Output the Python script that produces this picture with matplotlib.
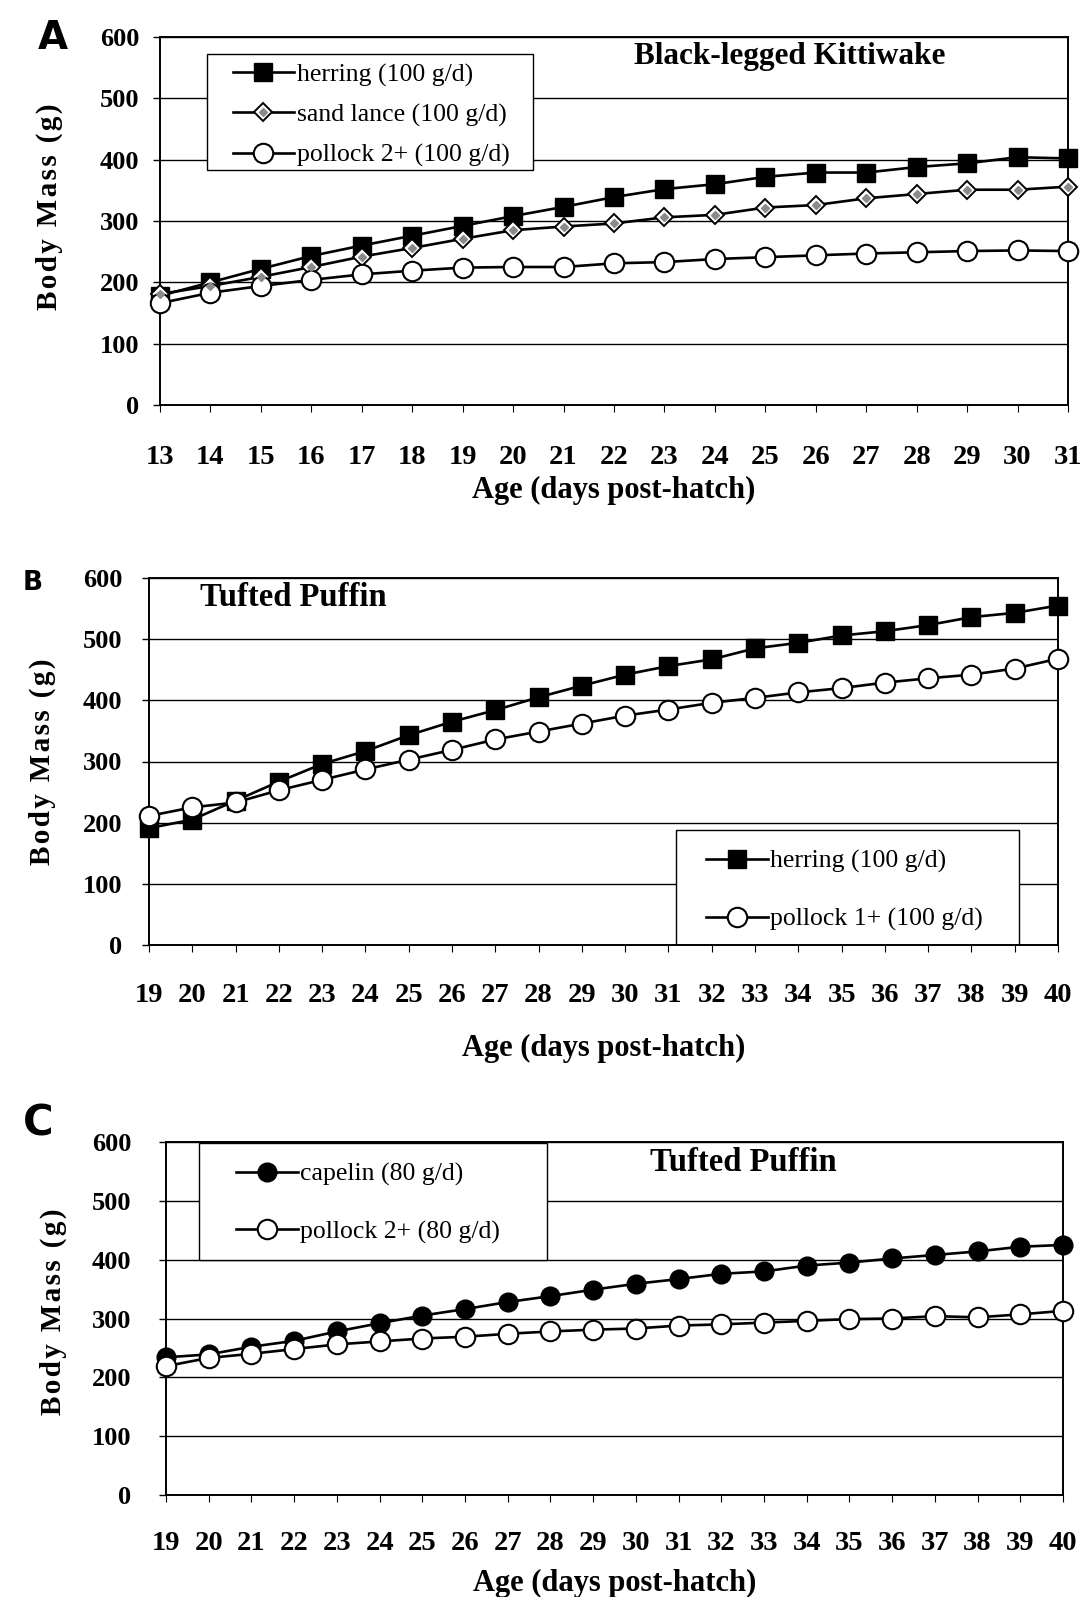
import matplotlib
matplotlib.use("Agg")
import matplotlib.pyplot as plt
from matplotlib.patches import Rectangle
from matplotlib.legend_handler import HandlerTuple

# ---- data ----
age_a = list(range(13, 32))
herring_a = [178, 200, 222, 243, 260, 276, 292, 308, 323, 339, 352, 360, 372, 379, 379, 388, 394, 404, 402]
sandlance_a = [181, 194, 209, 225, 242, 256, 271, 285, 291, 296, 306, 310, 322, 326, 337, 344, 351, 351, 356]
pollock_a = [166, 183, 194, 204, 213, 219, 224, 225, 225, 231, 233, 238, 241, 244, 247, 249, 251, 252, 251]

age_b = list(range(19, 41))
herring_b = [191, 205, 236, 267, 296, 317, 343, 365, 384, 405, 424, 442, 456, 467, 485, 494, 506, 513, 523, 536, 543, 555]
pollock_b = [211, 225, 233, 253, 270, 287, 303, 319, 336, 349, 362, 375, 385, 396, 404, 413, 420, 429, 436, 442, 452, 468]

age_c = list(range(19, 41))
capelin_c = [234, 239, 252, 262, 278, 292, 305, 316, 328, 338, 349, 359, 367, 376, 380, 390, 395, 402, 408, 414, 422, 425]
pollock_c = [219, 233, 240, 248, 256, 261, 266, 269, 274, 278, 281, 283, 288, 290, 293, 296, 299, 300, 304, 302, 307, 313]

yticks = [0, 100, 200, 300, 400, 500, 600]

SERIF = "Liberation Serif"
W, H = 1080, 1597
fig = plt.figure(figsize=(W / 100, H / 100), dpi=100)


def px_axes(left, top, right, bottom):
    return fig.add_axes([left / W, 1 - bottom / H, (right - left) / W, (bottom - top) / H])


def style_axes(ax, xs, ypad, xpad, xlab_y, ylab_x, ylab_y=0.5):
    ax.set_xlim(xs[0], xs[-1])
    ax.set_ylim(0, 600)
    ax.set_yticks(yticks)
    ax.set_xticks(xs)
    for s in ax.spines.values():
        s.set_linewidth(1.4)
        s.set_color("black")
    ax.yaxis.grid(True, color="black", linewidth=1.0)
    ax.set_axisbelow(True)
    ax.tick_params(axis="y", direction="out", length=5, width=1, pad=ypad)
    ax.tick_params(axis="x", direction="out", length=5, width=0.8, pad=xpad)
    for lab in ax.get_yticklabels():
        lab.set_fontfamily(SERIF)
        lab.set_fontweight("bold")
        lab.set_fontsize(19)
    for lab in ax.get_xticklabels():
        lab.set_fontfamily(SERIF)
        lab.set_fontweight("bold")
        lab.set_fontsize(20.5)
    ax.set_xlabel("Age (days post-hatch)", fontfamily=SERIF, fontweight="bold", fontsize=22)
    ax.xaxis.set_label_coords(0.5, xlab_y)
    ax.xaxis.label.set_va("center")
    hs = "\u200a"
    ax.set_ylabel(hs.join("Body Mass (g)"), family=[SERIF, "DejaVu Sans"], fontweight="bold", fontsize=21)
    ax.yaxis.set_label_coords(ylab_x, ylab_y)
    ax.yaxis.label.set_va("center")


def legend_box(ax, x0, x1, y0, y1):
    ax.add_patch(Rectangle((x0, y0), x1 - x0, y1 - y0, transform=ax.transAxes, facecolor="white",
                           edgecolor="black", linewidth=1.0, zorder=2.5))


line_kw = dict(color="black", linewidth=1.9, clip_on=False, zorder=3)
leg_kw = dict(prop={"family": SERIF, "size": 18.5}, frameon=False, borderaxespad=0, borderpad=0,
              handlelength=2.4, handletextpad=0.1)

# ---- Panel A ----
axA = px_axes(160, 37, 1068, 405)
hA, = axA.plot(age_a, herring_a, marker="s", markersize=12.5, mfc="black", mec="black", **line_kw)
sA, = axA.plot(age_a, sandlance_a, marker="D", markersize=9.5, mfc="white", mec="black", mew=1.4, **line_kw)
sdot, = axA.plot(age_a, sandlance_a, linestyle="none", marker="D", markersize=3.8, mfc="#8a8a8a",
                 mec="#8a8a8a", clip_on=False, zorder=4)
pA, = axA.plot(age_a, pollock_a, marker="o", markersize=14, mfc="white", mec="black", mew=1.5, **line_kw)
style_axes(axA, age_a, ypad=10, xpad=24, xlab_y=-0.233, ylab_x=-0.122, ylab_y=0.54)
legend_box(axA, 0.052, 0.411, 0.639, 0.954)
axA.legend([hA, (sA, sdot), pA], ["herring (100 g/d)", "sand lance (100 g/d)", "pollock 2+ (100 g/d)"],
           handler_map={tuple: HandlerTuple(ndivide=1)},
           loc="upper left", bbox_to_anchor=(0.080, 0.929), labelspacing=0.66, **leg_kw)
axA.text(0.694, 0.948, "Black-legged Kittiwake", transform=axA.transAxes, ha="center", va="center",
         fontfamily=SERIF, fontweight="bold", fontsize=22.5)
fig.text(53 / W, 1 - 38 / H, "A", ha="center", va="center", fontsize=28, fontweight="heavy",
         fontfamily="DejaVu Sans")

# ---- Panel B ----
axB = px_axes(149, 578, 1058, 945)
axB.plot(age_b, herring_b, marker="s", markersize=12.5, mfc="black", mec="black", label="herring (100 g/d)", **line_kw)
axB.plot(age_b, pollock_b, marker="o", markersize=14, mfc="white", mec="black", mew=1.5,
         label="pollock 1+ (100 g/d)", **line_kw)
style_axes(axB, age_b, ypad=14, xpad=22, xlab_y=-0.283, ylab_x=-0.117)
legend_box(axB, 0.580, 0.957, 0.0, 0.313)
axB.legend(loc="upper left", bbox_to_anchor=(0.613, 0.259), labelspacing=1.33, **leg_kw)
axB.text(0.159, 0.948, "Tufted Puffin", transform=axB.transAxes, ha="center", va="center",
         fontfamily=SERIF, fontweight="bold", fontsize=23.5)
fig.text(33 / W, 1 - 583 / H, "B", ha="center", va="center", fontsize=19, fontweight="heavy",
         fontfamily="DejaVu Sans")

# ---- Panel C ----
axC = px_axes(166, 1142, 1063, 1495)
axC.plot(age_c, capelin_c, marker="o", markersize=13.5, mfc="black", mec="black", label="capelin (80 g/d)", **line_kw)
axC.plot(age_c, pollock_c, marker="o", markersize=14, mfc="white", mec="black", mew=1.5,
         label="pollock 2+ (80 g/d)", **line_kw)
style_axes(axC, age_c, ypad=20, xpad=21, xlab_y=-0.25, ylab_x=-0.126, ylab_y=0.52)
legend_box(axC, 0.037, 0.425, 0.666, 0.997)
axC.legend(loc="upper left", bbox_to_anchor=(0.078, 0.941), labelspacing=1.33, **leg_kw)
axC.text(0.644, 0.943, "Tufted Puffin", transform=axC.transAxes, ha="center", va="center",
         fontfamily=SERIF, fontweight="bold", fontsize=23.5)
fig.text(38 / W, 1 - 1123 / H, "C", ha="center", va="center", fontsize=30, fontweight="heavy",
         fontfamily="DejaVu Sans")

fig.savefig("out.png", dpi=100, facecolor="white")
